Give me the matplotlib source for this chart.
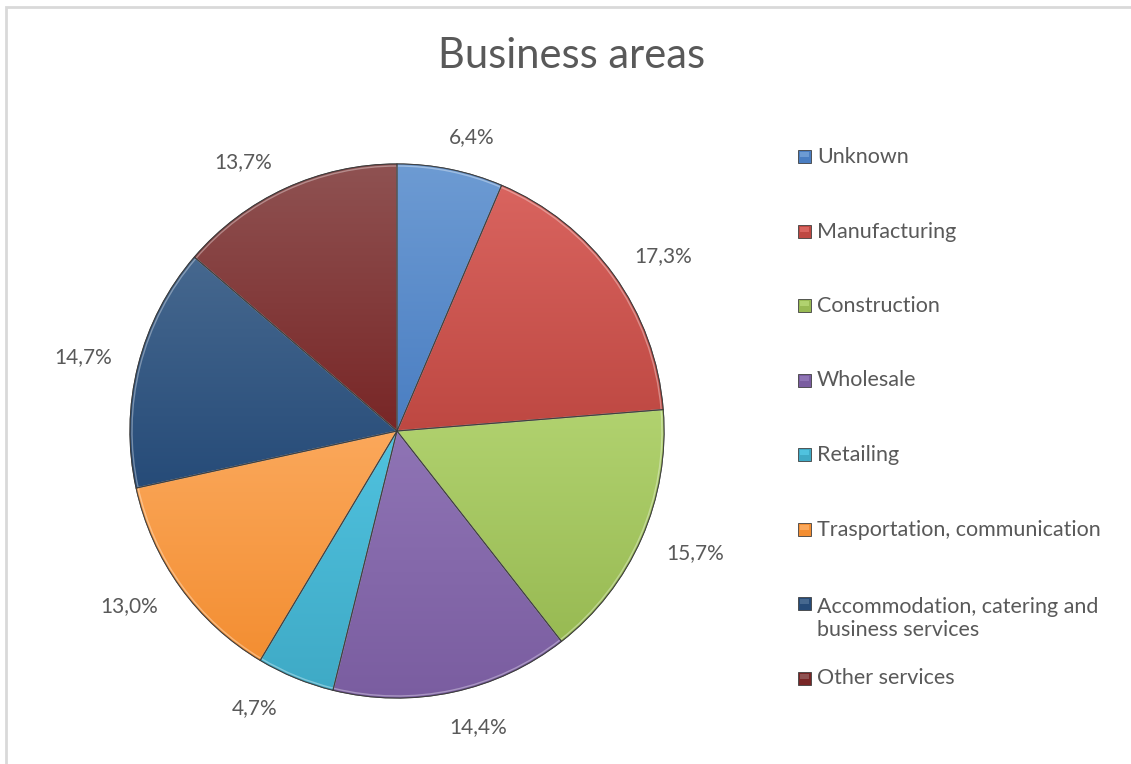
import numpy as np
import matplotlib.pyplot as plt
from matplotlib.patches import Rectangle, Wedge
from matplotlib.colors import to_rgb

plt.rcParams['font.family'] = ['Lato', 'DejaVu Sans']

# Business area shares (percent)
categories = ['Unknown', 'Manufacturing', 'Construction', 'Wholesale', 'Retailing',
              'Trasportation, communication',
              'Accommodation, catering and\nbusiness services', 'Other services']
shares = [6.4, 17.3, 15.7, 14.4, 4.7, 13.0, 14.7, 13.7]

# light (top) / dark (bottom) shade of each slice
top_colors = ['#6D9BD3', '#D9645F', '#B1D26F', '#8F74B5',
              '#50C2DF', '#FBA85B', '#46688F', '#8F5252']
bottom_colors = ['#4A7EC2', '#BE4842', '#98BA53', '#7A5DA0',
                 '#3FAAC6', '#F38E32', '#264B78', '#782626']

# small angular shifts of the percentage labels (degrees)
label_shift = [-2.7, -2.3, 1.6, 3.4, -5.0, -2.8, 0.6, 5.0]

TEXT = '#595959'
W, H = 1131, 764

fig = plt.figure(figsize=(W / 100, H / 100), dpi=100)
ax = fig.add_axes([0, 0, 1, 1])

cx, cy, R = 397, H - 431, 267
wedges, _ = ax.pie(shares, startangle=90, counterclock=False,
                   center=(cx, cy), radius=R,
                   wedgeprops=dict(edgecolor='#3a3a3a', linewidth=0.8))
ax.axis('off')


def gradient(c_top, c_bot, n=256):
    t = np.linspace(0, 1, n)[:, None]
    a = np.array(to_rgb(c_bot))
    b = np.array(to_rgb(c_top))
    return (a + (b - a) * t)[:, None, :].repeat(2, axis=1)


# vertical shading inside every slice
for w, ct, cb in zip(wedges, top_colors, bottom_colors):
    w.set_facecolor(cb)
    v = w.get_path().vertices
    x0, x1 = v[:, 0].min(), v[:, 0].max()
    y0, y1 = v[:, 1].min(), v[:, 1].max()
    im = ax.imshow(gradient(ct, cb), extent=[x0, x1, y0, y1], origin='lower',
                   aspect='auto', interpolation='bilinear', zorder=w.get_zorder() + 0.1)
    im.set_clip_path(w)
    # thin light bevel just inside the edge
    ax.add_patch(Wedge((cx, cy), R - 2, w.theta1, w.theta2, fill=False,
                       edgecolor='white', linewidth=1.0, alpha=0.35,
                       zorder=w.get_zorder() + 0.2))
    ax.add_patch(Wedge((cx, cy), R, w.theta1, w.theta2, fill=False,
                       edgecolor='#3a3a3a', linewidth=0.8, alpha=0.8,
                       zorder=w.get_zorder() + 0.3))

ax.set_xlim(0, W)
ax.set_ylim(0, H)
ax.set_aspect('auto')

# percentage labels outside the slices
for w, val, sh in zip(wedges, shares, label_shift):
    ang = np.deg2rad((w.theta1 + w.theta2) / 2 + sh)
    dist = R * (1.12 + 0.09 * abs(np.cos(ang)))
    ax.text(cx + dist * np.cos(ang), cy + dist * np.sin(ang) - 7.5,
            f'{val:.1f}%'.replace('.', ','), ha='center', va='baseline',
            fontsize=15, color=TEXT)

# title
ax.text(572, H - 68, 'Business areas', ha='center', va='baseline',
        fontsize=30, color=TEXT)

# legend (baseline of the first line sits on the marker bottom)
row0, step, line_h = 163, 74.5, 26
for i, (lab, ct, cb) in enumerate(zip(categories, top_colors, bottom_colors)):
    yb = H - (row0 + i * step)
    ax.add_patch(Rectangle((798, yb), 13, 13, facecolor=cb,
                           edgecolor='#404040', linewidth=0.6))
    ax.add_patch(Rectangle((800, yb + 6), 9, 5, facecolor=ct, linewidth=0))
    extra = lab.count('\n') * line_h
    ax.text(817, yb - extra, lab, ha='left', va='baseline', fontsize=15.5,
            color=TEXT, linespacing=1.2)

# chart area border (left and top edges)
ax.plot([6, 6, W], [0, H - 7, H - 7], color='#D9D9D9', linewidth=2,
        solid_joinstyle='miter')

fig.savefig('out.png', dpi=100, facecolor='white')
